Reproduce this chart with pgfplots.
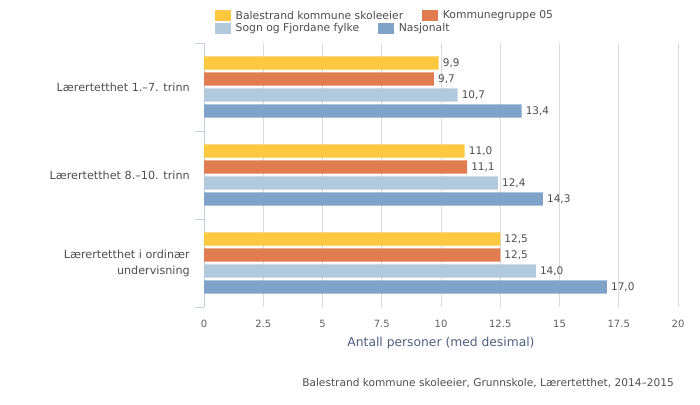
\documentclass[border=0pt]{standalone}
\usepackage{pgfplots}
\pgfplotsset{compat=1.18}
\usepackage{pgfplotstable}
\usepackage{fontspec}
\setmainfont{DejaVu Sans}

\definecolor{cYel}{HTML}{FCC83F}
\definecolor{cOra}{HTML}{E07C4F}
\definecolor{cLbl}{HTML}{B1C8DD}
\definecolor{cBlu}{HTML}{7FA3C8}
\definecolor{cGrid}{HTML}{DADADA}
\definecolor{cAxis}{HTML}{C0D0E0}
\definecolor{cTxt}{HTML}{4D4D4D}
\definecolor{cTick}{HTML}{606060}
\definecolor{cLab}{HTML}{4D5F80}

\pgfplotstableread{
cat yel ora lbl blu
0 9.9 9.7 10.7 13.4
1 11.0 11.1 12.4 14.3
2 12.5 12.5 14.0 17.0
}\data

\pgfplotsset{
  sq legend/.style={legend image code/.code={\fill[##1, draw=none] (0pt,-5.4pt) rectangle (15.7pt,5.4pt);}},
  mybar/.style={xbar, bar width=13.3pt, draw=none, sq legend,
    bar shift=#1, every node near coord/.append style={yshift=#1}},
  common/.style={
    scale only axis, width=474pt, height=264pt,
    at={(204pt,97pt)}, anchor=south west,
    xmin=0, xmax=20, ymin=-0.5, ymax=2.5, y dir=reverse,
    /pgf/number format/assume math mode=true,
    legend columns=-1,
    legend style={draw=none, fill=none, inner sep=0pt, outer sep=0pt,
      font=\fontsize{10.8}{13}\selectfont, text=cTxt, anchor=west,
      nodes={inner sep=0pt},
      /tikz/every odd column/.append style={column sep=5pt},
      /tikz/every even column/.append style={column sep=19pt}},
  },
}

\begin{document}
\begin{tikzpicture}
\begin{axis}[common,
  xtick={0,2.5,5,7.5,10,12.5,15,17.5,20},
  xmajorgrids, major grid style={cGrid, line width=1pt},
  axis y line*=left, axis x line*=bottom,
  x axis line style={draw=none},
  y axis line style={cAxis, line width=1pt, -},
  ytick={0,1,2},
  yticklabels={Lærertetthet 1.--7. trinn, Lærertetthet 8.--10. trinn, {Lærertetthet i ordinær\\undervisning}},
  minor ytick={-0.5,0.5,1.5,2.5},
  tick align=outside,
  major tick length=0pt,
  minor tick length=9pt,
  minor tick style={cAxis, line width=1pt},
  yticklabel style={font=\fontsize{11.2}{16}\selectfont, text=cTxt, align=right, inner sep=0pt, xshift=-14pt},
  xticklabel style={font=\fontsize{10}{12}\selectfont, text=cTick, anchor=base, inner sep=0pt, yshift=-20pt},
  xlabel={Antall personer (med desimal)},
  x label style={font=\fontsize{12.3}{14}\selectfont, text=cLab, at={(axis description cs:0.5,0)}, anchor=base, inner sep=0pt, yshift=-39pt},
  point meta=x,
  nodes near coords={\pgfmathprintnumber[fixed,fixed zerofill,precision=1,use comma]{\pgfplotspointmeta}},
  every node near coord/.append style={font=\fontsize{10.5}{12}\selectfont, text=cTxt, anchor=west, inner sep=0pt, xshift=4pt},
  legend style={at={(axis description cs:0.0232,1.1034)}},
]
\addplot[mybar=24pt, fill=cYel] table[x=yel, y=cat]{\data};
\addlegendentry{Balestrand kommune skoleeier}
\addplot[mybar=8pt, fill=cOra] table[x=ora, y=cat]{\data};
\addlegendentry{Kommunegruppe 05}
\addplot[mybar=-8pt, fill=cLbl, forget plot] table[x=lbl, y=cat]{\data};
\addplot[mybar=-24pt, fill=cBlu, forget plot] table[x=blu, y=cat]{\data};
\end{axis}
\begin{axis}[common, hide axis,
  legend style={at={(axis description cs:0.0232,1.0549)}},
]
\addlegendimage{sq legend, fill=cLbl, draw=none}
\addlegendentry{Sogn og Fjordane fylke}
\addlegendimage{sq legend, fill=cBlu, draw=none}
\addlegendentry{Nasjonalt}
\end{axis}
\node[anchor=base east, inner sep=0pt, font=\fontsize{10.6}{12}\selectfont, text=cTxt] at (674pt,18pt) {Balestrand kommune skoleeier, Grunnskole, Lærertetthet, 2014--2015};
\pgfresetboundingbox
\path[use as bounding box] (0pt,0pt) rectangle (700pt,404pt);
\end{tikzpicture}
\end{document}
